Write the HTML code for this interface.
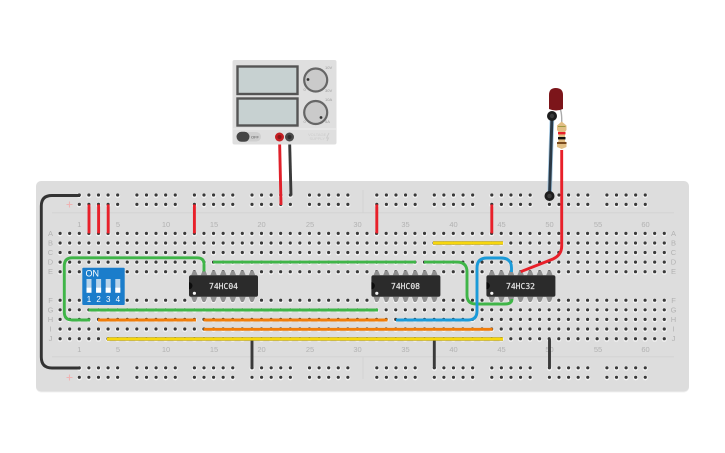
<!DOCTYPE html>
<html><head><meta charset="utf-8"><style>
html,body{margin:0;padding:0;background:#fff;width:725px;height:453px;overflow:hidden}
svg{display:block}
.n{font:7.5px "Liberation Sans",sans-serif;fill:#b2b2b2;text-anchor:middle}
.c{font:8px "DejaVu Sans Mono","Liberation Mono",monospace;fill:#e4e4e4;text-anchor:middle;stroke:#e4e4e4;stroke-width:.2}
.w{fill:none;stroke-linecap:butt;stroke-linejoin:round}
</style></head><body>
<svg width="725" height="453" viewBox="0 0 725 453" xmlns="http://www.w3.org/2000/svg">
<defs>
<g id="h1"><circle cx="0" cy="0.6" r="2.5" fill="#f3f3f3"/><circle cx="0" cy="0" r="1.6" fill="#383838"/></g>
<g id="h5"><use href="#h1"/><use href="#h1" x="9.59"/><use href="#h1" x="19.18"/><use href="#h1" x="28.77"/><use href="#h1" x="38.36"/></g>
<g id="row"><use href="#h5" x="0"/><use href="#h5" x="47.95"/><use href="#h5" x="95.9"/><use href="#h5" x="143.85"/><use href="#h5" x="191.8"/><use href="#h5" x="239.75"/><use href="#h5" x="287.7"/><use href="#h5" x="335.65"/><use href="#h5" x="383.6"/><use href="#h5" x="431.55"/><use href="#h5" x="479.5"/><use href="#h5" x="527.45"/><use href="#h1" x="575.4"/><use href="#h1" x="584.99"/><use href="#h1" x="594.58"/><use href="#h1" x="604.17"/></g>
<g id="rail"><use href="#h5" x="79.3"/><use href="#h5" x="136.9"/><use href="#h5" x="194.4"/><use href="#h5" x="252"/><use href="#h5" x="309.5"/><use href="#h5" x="376.8"/><use href="#h5" x="434.3"/><use href="#h5" x="491.8"/><use href="#h5" x="549.4"/><use href="#h5" x="606.9"/></g>
<g id="pt"><path d="M-3.2,0h6.4l-1.6,-4.4h-3.2z" fill="#8f8f8f"/></g>
<g id="pb"><path d="M-3.2,0h6.4l-1.6,4.6h-3.2z" fill="#8f8f8f"/></g>
<g id="chip">
<use href="#pt" x="5.4" y="0"/><use href="#pt" x="15" y="0"/><use href="#pt" x="24.6" y="0"/><use href="#pt" x="34.2" y="0"/><use href="#pt" x="43.8" y="0"/><use href="#pt" x="53.4" y="0"/><use href="#pt" x="63" y="0"/>
<use href="#pb" x="5.4" y="21.5"/><use href="#pb" x="15" y="21.5"/><use href="#pb" x="24.6" y="21.5"/><use href="#pb" x="34.2" y="21.5"/><use href="#pb" x="43.8" y="21.5"/><use href="#pb" x="53.4" y="21.5"/><use href="#pb" x="63" y="21.5"/>
<rect x="0" y="0" width="69" height="21.5" rx="2" fill="#2b2b2b"/>
<path d="M0,7a3.5,3.5 0 0 1 0,7z" fill="#0c0c0c"/>
<circle cx="5.4" cy="18" r="1.6" fill="#f2f2f2"/>
</g>
</defs>

<rect x="36" y="181.5" width="653" height="211" rx="5" fill="#f0f0f0"/>
<rect x="36" y="181" width="653" height="210.5" rx="5" fill="#dddddd"/>
<path d="M52 212.8H674M52 356.8H674M363 190V213M363 357V379" stroke="#d3d3d3" stroke-width="1" fill="none"/>

<path d="M66.5,204.5h6M69.5,201.5v6M66.5,377.5h6M69.5,374.5v6" stroke="#eeb4b4" stroke-width="1.1"/>

<use href="#rail" y="195"/><use href="#rail" y="204.4"/>
<use href="#rail" y="367.8"/><use href="#rail" y="377.3"/>

<use href="#row" x="60.1" y="233.4"/><use href="#row" x="60.1" y="243"/><use href="#row" x="60.1" y="252.5"/><use href="#row" x="60.1" y="262.1"/><use href="#row" x="60.1" y="271.7"/>
<use href="#row" x="60.1" y="300.2"/><use href="#row" x="60.1" y="309.8"/><use href="#row" x="60.1" y="319.4"/><use href="#row" x="60.1" y="329"/><use href="#row" x="60.1" y="338.7"/>

<g class="n">
<text class="n" x="79.3" y="227">1</text><text class="n" x="118" y="227">5</text><text class="n" x="166" y="227">10</text><text class="n" x="214" y="227">15</text><text class="n" x="261.5" y="227">20</text><text class="n" x="310" y="227">25</text><text class="n" x="357.5" y="227">30</text><text class="n" x="405.5" y="227">35</text><text class="n" x="453.5" y="227">40</text><text class="n" x="501.5" y="227">45</text><text class="n" x="549.5" y="227">50</text><text class="n" x="598" y="227">55</text><text class="n" x="645.5" y="227">60</text>
<text class="n" x="79.3" y="352">1</text><text class="n" x="118" y="352">5</text><text class="n" x="166" y="352">10</text><text class="n" x="214" y="352">15</text><text class="n" x="261.5" y="352">20</text><text class="n" x="310" y="352">25</text><text class="n" x="357.5" y="352">30</text><text class="n" x="405.5" y="352">35</text><text class="n" x="453.5" y="352">40</text><text class="n" x="501.5" y="352">45</text><text class="n" x="549.5" y="352">50</text><text class="n" x="598" y="352">55</text><text class="n" x="645.5" y="352">60</text>
<text class="n" x="50.5" y="236">A</text><text class="n" x="50.5" y="245.5">B</text><text class="n" x="50.5" y="255">C</text><text class="n" x="50.5" y="264.5">D</text><text class="n" x="50.5" y="274">E</text><text class="n" x="50.5" y="303">F</text><text class="n" x="50.5" y="312.5">G</text><text class="n" x="50.5" y="322">H</text><text class="n" x="50.5" y="331.5">I</text><text class="n" x="50.5" y="341">J</text>
<text class="n" x="673.5" y="236">A</text><text class="n" x="673.5" y="245.5">B</text><text class="n" x="673.5" y="255">C</text><text class="n" x="673.5" y="264.5">D</text><text class="n" x="673.5" y="274">E</text><text class="n" x="673.5" y="303">F</text><text class="n" x="673.5" y="312.5">G</text><text class="n" x="673.5" y="322">H</text><text class="n" x="673.5" y="331.5">I</text><text class="n" x="673.5" y="341">J</text>
</g>

<!-- chips -->
<use href="#chip" x="189" y="275.3"/><use href="#chip" x="371.4" y="275.3"/><use href="#chip" x="486.4" y="275.3"/>
<text class="c" x="223.5" y="289">74HC04</text>
<text class="c" x="405.5" y="289">74HC08</text>
<text class="c" x="520.5" y="289">74HC32</text>

<!-- DIP switch -->
<rect x="82.3" y="267.7" width="42.4" height="37.3" rx="1" fill="#1b7dcb"/>
<text x="85.5" y="276.5" style="font:9px 'Liberation Sans',sans-serif" fill="#fff">ON</text>
<g fill="#fff">
<rect x="86.5" y="279" width="5" height="13.7" fill="#b9d4ea"/><rect x="96.1" y="279" width="5" height="13.7" fill="#b9d4ea"/><rect x="105.7" y="279" width="5" height="13.7" fill="#b9d4ea"/><rect x="115.3" y="279" width="5" height="13.7" fill="#b9d4ea"/>
<rect x="86.5" y="287.7" width="5" height="5"/><rect x="96.1" y="287.7" width="5" height="5"/><rect x="105.7" y="287.7" width="5" height="5"/><rect x="115.3" y="287.7" width="5" height="5"/>
</g>
<g style="font:8px 'Liberation Sans',sans-serif" fill="#fff" text-anchor="middle"><text x="89" y="302">1</text><text x="98.6" y="302">2</text><text x="108.2" y="302">3</text><text x="117.8" y="302">4</text></g>

<!-- wires -->
<g class="w" stroke-width="2.9">
<path class="w" d="M80,195.5H52Q41.3,195.5 41.3,206V357Q41.3,368 52,368H80" stroke="#333"/>
<path class="w" d="M252,339V368M434.3,339V368M549.5,339V368" stroke="#3a3a3a"/>
<path class="w" d="M289.5,137L291,195.5" stroke="#3a3a3a"/>
<path class="w" d="M89,204.5V233.4M98.6,204.5V233.4M108.2,204.5V233.4M194.4,204.5V233.4M376.8,204.5V233.4M491.8,204.5V233.4" stroke="#e8202a"/>
<path class="w" d="M279.5,137L281,205" stroke="#e0202a"/>
<path class="w" d="M204,271.5V264Q204,257.8 197,257.8H72Q64.3,257.8 64.3,266V312Q64.3,320 72,320H90" stroke="#3fb548"/>
<path class="w" d="M88.5,310H378M213,262.1H416M424,262.1H457Q467,262.1 467,272V295Q467,304 476,304H505Q512,304 512,299" stroke="#3fb548"/>
<path class="w" d="M98,320H196M203.5,320H387.5M203.5,329.3H492.7" stroke="#f07d0a"/>
<path class="w" d="M107,339H503M433,243H503" stroke="#b29a12" stroke-width="3.4"/>
<path class="w" d="M107,339H503M433,243H503" stroke="#f7d70e" stroke-width="2.6"/>
<path class="w" d="M396,320H468Q477,320 477,311V268Q477,258 487,258H501Q511.5,258 511.5,268V272" stroke="#1b9ad8"/>
<path class="w" d="M561.7,150V246Q561.7,255 553,259L520.7,271.7" stroke="#e8202a"/>
</g>

<!-- power supply -->
<rect x="232.5" y="60" width="104" height="84.5" rx="2" fill="#dfdfdf"/>
<path d="M233,129H336" stroke="#ececec" stroke-width="1"/>
<rect x="237.5" y="66.5" width="60" height="27.5" fill="#c7d1d1" stroke="#555" stroke-width="2.4"/>
<rect x="237.5" y="98.5" width="60" height="27" fill="#c7d1d1" stroke="#555" stroke-width="2.4"/>
<circle cx="315.7" cy="80" r="11.5" fill="#cacaca" stroke="#666" stroke-width="2.2"/>
<circle cx="315.7" cy="112.5" r="11.5" fill="#cacaca" stroke="#666" stroke-width="2.2"/>
<circle cx="308" cy="79.5" r="1.4" fill="#333"/><circle cx="321" cy="117.5" r="1.4" fill="#333"/>
<g style="font:4px 'Liberation Sans',sans-serif" fill="#999">
<text x="325" y="69">10V</text><text x="325" y="101">10A</text><text x="303.5" y="91">0</text><text x="325" y="92">30V</text><text x="303.5" y="123">0</text><text x="325" y="123">5A</text>
<text x="308" y="136" fill="#ccc">VOLTAGE</text><text x="309.5" y="140" fill="#ccc">SUPPLY</text>
</g>
<path d="M329,133L326.5,138H328.5L327,141" stroke="#ccc" stroke-width="0.9" fill="none"/>
<rect x="237" y="132" width="24" height="9.5" rx="4.7" fill="#cfcfcf"/>
<rect x="236.5" y="131.8" width="13" height="10" rx="5" fill="#454545"/>
<text x="251" y="138.5" style="font:4px 'Liberation Sans',sans-serif" fill="#555">OFF</text>
<circle cx="279.5" cy="137" r="4.5" fill="#c51f23"/><circle cx="279.5" cy="137" r="2" fill="#8e1518"/>
<circle cx="289.5" cy="137" r="4.5" fill="#4a4a4a"/><circle cx="289.5" cy="137" r="2" fill="#2f2f2f"/>

<!-- LED and resistor -->
<path d="M552,116L549.5,196" stroke="#a9cbe4" stroke-width="4.6"/>
<path d="M552,116L549.5,196" stroke="#2b3a47" stroke-width="3"/>
<path d="M560,109Q562,112 561.7,124" stroke="#aaa" stroke-width="1.4" fill="none"/>
<path d="M549,109V95Q549,88 555.7,88Q563,88 563,95V109Q556,112 549,109Z" fill="#7c151a"/>
<path d="M561.7,121.5L557,125.5V130L558.5,132V141L557,144V147L561.7,149L566.5,147V144L565,141V132L566.5,130V125.5Z" fill="#e1be84"/>
<rect x="558" y="126" width="7.5" height="1" fill="#9a9a40"/>
<rect x="558" y="132" width="7.5" height="2.4" fill="#e8202a"/>
<rect x="558" y="137" width="7.5" height="2.4" fill="#111"/>
<rect x="557" y="142" width="9.5" height="2" fill="#7a4a1e"/>
<circle cx="552" cy="116" r="5" fill="#1d1d1d"/><circle cx="552" cy="116" r="2.2" fill="#3a3a3a"/>
<circle cx="549.5" cy="196" r="5" fill="#1d1d1d"/><circle cx="549.5" cy="196" r="2.3" fill="#3a3a3a"/>
</svg>
</body></html>
